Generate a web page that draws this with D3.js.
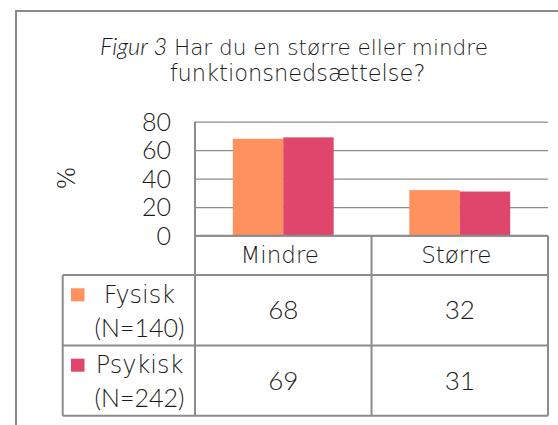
<!DOCTYPE html>
<html>
<head>
<meta charset="utf-8">
<script src="https://cdn.jsdelivr.net/npm/d3@7"></script>
<style>
  html, body { margin: 0; padding: 0; background: #fff; }
  svg { display: block; }
  text { font-weight: 300; }
</style>
</head>
<body>
<svg id="chart" width="558" height="425"></svg>
<script>
// ---- data ----
const categories = ["Mindre", "Større"];
const seriesNames = ["Fysisk", "Psykisk"];
const seriesN = ["(N=140)", "(N=242)"];
const fysisk = [68, 32];
const psykisk = [69, 31];
const yTicks = [0, 20, 40, 60, 80];
const titleItalic = "Figur 3";
const titleLine1 = " Har du en større eller mindre";
const titleLine2 = "funktionsnedsættelse?";
const yLabel = "%";

const seriesValues = [fysisk, psykisk];
const colors = ["#FF915F", "#E0466B"];

// ---- layout ----
const svg = d3.select("#chart");
const plotLeft = 195, plotRight = 548, plotTop = 121.7, plotBottom = 235.7;
const labelRowBottom = 275, rowH = 70.4, tableLeft = 62.7;
const wordFont = "'DejaVu Sans', sans-serif";
const numFont = "Lato, 'DejaVu Sans', sans-serif";
const textColor = "#1a1a1a";
const lineColor = "#8c8c8c";

// outer frame
svg.append("rect")
  .attr("x", 16).attr("y", 11)
  .attr("width", 700).attr("height", 600)
  .attr("fill", "none").attr("stroke", "#8a8a8a").attr("stroke-width", 2);

// title
const title = svg.append("text")
  .attr("x", 294).attr("y", 55)
  .attr("text-anchor", "middle")
  .attr("font-family", wordFont).attr("font-size", 21.6)
  .attr("fill", textColor);
title.append("tspan")
  .attr("font-family", "Lato, 'DejaVu Sans', sans-serif")
  .attr("font-size", 23.5)
  .style("font-style", "italic").style("font-weight", 300)
  .text(titleItalic);
title.append("tspan").text(titleLine1);
svg.append("text")
  .attr("x", 297.5).attr("y", 81)
  .attr("text-anchor", "middle")
  .attr("font-family", wordFont).attr("font-size", 22.5)
  .attr("fill", textColor)
  .text(titleLine2);

// scales
const x = d3.scaleBand().domain(categories).range([plotLeft, plotRight]).paddingInner(0).paddingOuter(0);
const x1 = d3.scaleBand().domain(seriesNames).range([0, x.bandwidth()]).paddingInner(0).paddingOuter(0.75);
const y = d3.scaleLinear().domain([0, 80]).range([plotBottom, plotTop]);

// gridlines + y tick labels
const yAxis = d3.axisLeft(y).tickValues(yTicks)
  .tickSize(-(plotRight - plotLeft)).tickPadding(24).tickFormat(d3.format("d"));
const gy = svg.append("g").attr("transform", `translate(${plotLeft},0)`).call(yAxis);
gy.select(".domain").remove();
gy.selectAll(".tick line").attr("stroke", lineColor).attr("stroke-width", 1.2);
gy.selectAll(".tick text")
  .attr("font-family", numFont).attr("font-size", 25)
  .attr("fill", textColor).attr("dy", "0.34em");

// y label
svg.append("text")
  .attr("transform", "translate(75,178) rotate(-90)")
  .attr("text-anchor", "middle")
  .attr("font-family", wordFont).attr("font-size", 24)
  .attr("fill", textColor)
  .text(yLabel);

// bars
const groups = svg.append("g").selectAll("g")
  .data(categories).join("g")
  .attr("transform", d => `translate(${x(d)},0)`);
groups.selectAll("rect")
  .data((c, ci) => seriesNames.map((s, si) => ({ s, si, v: seriesValues[si][ci] })))
  .join("rect")
  .attr("x", d => x1(d.s))
  .attr("width", x1.bandwidth())
  .attr("y", d => y(d.v))
  .attr("height", d => y(0) - y(d.v))
  .attr("fill", d => colors[d.si]);

// data table lines
const tbl = svg.append("g").attr("stroke", lineColor).attr("stroke-width", 2).attr("fill", "none");
const tableBottom = labelRowBottom + rowH * seriesNames.length;
tbl.append("line").attr("x1", plotLeft).attr("x2", plotRight).attr("y1", plotBottom).attr("y2", plotBottom);
tbl.append("line").attr("x1", plotLeft).attr("x2", plotLeft).attr("y1", plotTop).attr("y2", tableBottom);
categories.forEach((c) => {
  const xr = x(c) + x.bandwidth();
  tbl.append("line").attr("x1", xr).attr("x2", xr).attr("y1", plotBottom).attr("y2", tableBottom);
});
d3.range(seriesNames.length + 1).forEach(i => {
  const yy = labelRowBottom + rowH * i;
  tbl.append("line").attr("x1", tableLeft).attr("x2", plotRight).attr("y1", yy).attr("y2", yy);
});
tbl.append("line").attr("x1", tableLeft).attr("x2", tableLeft).attr("y1", labelRowBottom).attr("y2", tableBottom);

// category labels
svg.append("g").selectAll("text")
  .data(categories).join("text")
  .attr("x", d => x(d) + x.bandwidth() / 2 - 3.5)
  .attr("y", 263.3)
  .attr("text-anchor", "middle")
  .attr("font-family", wordFont).attr("font-size", 23)
  .attr("fill", textColor)
  .text(d => d);

// legend column + values
seriesNames.forEach((s, si) => {
  const top = labelRowBottom + rowH * si;
  svg.append("rect")
    .attr("x", 71).attr("y", top + 13.3)
    .attr("width", 13.5).attr("height", 13)
    .attr("fill", colors[si]);
  svg.append("text")
    .attr("x", 139.5).attr("y", top + 27.7)
    .attr("text-anchor", "middle")
    .attr("font-family", wordFont).attr("font-size", 24)
    .attr("fill", textColor).text(s);
  svg.append("text")
    .attr("x", 139.5).attr("y", top + 61.5)
    .attr("text-anchor", "middle")
    .attr("font-family", numFont).attr("font-size", 25)
    .attr("fill", textColor).text(seriesN[si]);
  categories.forEach((c, ci) => {
    svg.append("text")
      .attr("x", x(c) + x.bandwidth() / 2)
      .attr("y", top + 44.3)
      .attr("text-anchor", "middle")
      .attr("font-family", numFont).attr("font-size", 26)
      .attr("fill", textColor).text(seriesValues[si][ci]);
  });
});
</script>
</body>
</html>
